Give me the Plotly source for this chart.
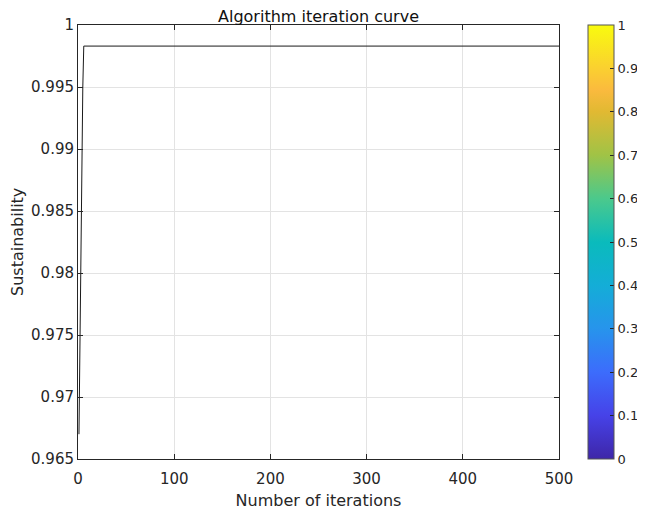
import plotly.graph_objects as go

# ---- data ----
early_values = [0.9670, 0.9745, 0.9820, 0.9895, 0.9950, 0.9983]
plateau_value = 0.9983
n_iter = 500
iterations = list(range(1, n_iter + 1))
sustainability = early_values + [plateau_value] * (n_iter - len(early_values))

x_ticks = [0, 100, 200, 300, 400, 500]
y_ticks = [0.965, 0.97, 0.975, 0.98, 0.985, 0.99, 0.995, 1.0]
y_ticklabels = ["0.965", "0.97", "0.975", "0.98", "0.985", "0.99", "0.995", "1"]
cb_ticks = [0, 0.1, 0.2, 0.3, 0.4, 0.5, 0.6, 0.7, 0.8, 0.9, 1.0]
cb_ticklabels = ["0", "0.1", "0.2", "0.3", "0.4", "0.5", "0.6", "0.7", "0.8", "0.9", "1"]

parula = [
    [0.00, "rgb(62,38,168)"],
    [0.10, "rgb(70,66,232)"],
    [0.20, "rgb(60,108,252)"],
    [0.30, "rgb(39,148,236)"],
    [0.40, "rgb(20,173,215)"],
    [0.50, "rgb(10,187,188)"],
    [0.60, "rgb(75,201,140)"],
    [0.70, "rgb(160,195,70)"],
    [0.80, "rgb(225,185,50)"],
    [0.85, "rgb(250,186,62)"],
    [0.90, "rgb(250,208,48)"],
    [1.00, "rgb(249,251,14)"],
]

TXT = "#262626"
FONT = "DejaVu Sans, Arial, sans-serif"
W, H = 637, 505
L, R, T, B = 70, 86, 17, 54
plot_w = W - L - R

fig = go.Figure()
fig.add_trace(go.Scatter(
    x=iterations, y=sustainability, mode="lines",
    line=dict(color="#1a1a1a", width=1), showlegend=False, hoverinfo="x+y",
))
# colorbar carrier
fig.add_trace(go.Scatter(
    x=[250], y=[0.99], mode="markers", showlegend=False, hoverinfo="skip",
    marker=dict(color=[0.5], cmin=0, cmax=1, colorscale=parula, opacity=0, size=1,
                showscale=True,
                colorbar=dict(
                    xref="container", x=580 / W, xanchor="left", xpad=0,
                    y=0.5, yanchor="middle", ypad=0,
                    len=1, lenmode="fraction", thickness=26, thicknessmode="pixels",
                    outlinecolor="#555555", outlinewidth=1,
                    tickvals=cb_ticks, ticktext=cb_ticklabels,
                    ticks="inside", ticklen=4, tickcolor=TXT,
                    tickfont=dict(family=FONT, size=13, color=TXT),
                )),
))

fig.update_layout(
    width=W, height=H,
    margin=dict(l=L, r=R, t=T, b=B, autoexpand=False),
    paper_bgcolor="white", plot_bgcolor="white",
    font=dict(family=FONT, color=TXT),
    title=dict(text="Algorithm iteration curve", x=(L + W - R) / 2 / W, xanchor="center",
               y=1 - 8 / H, yanchor="middle", font=dict(size=16, color="#111111")),
    annotations=[dict(
        text="Sustainability", textangle=-90, xref="paper", yref="paper",
        x=(9 - L) / plot_w, y=0.5, xanchor="center", yanchor="middle",
        showarrow=False, font=dict(size=16, color=TXT),
    )],
)
fig.update_xaxes(
    range=[0, 500], tickvals=x_ticks, showgrid=True, gridcolor="#e3e3e3", gridwidth=1,
    showline=True, linecolor=TXT, linewidth=1, mirror="ticks", ticks="inside", ticklen=5,
    tickcolor=TXT, zeroline=False, tickfont=dict(size=15, color=TXT), ticklabelstandoff=6,
    automargin=False,
    title=dict(text="Number of iterations", font=dict(size=16, color=TXT), standoff=7),
)
fig.update_yaxes(
    range=[0.965, 1.0], tickvals=y_ticks, ticktext=y_ticklabels, showgrid=True,
    gridcolor="#e3e3e3", gridwidth=1, automargin=False,
    showline=True, linecolor=TXT, linewidth=1, mirror="ticks", ticks="inside", ticklen=5,
    tickcolor=TXT, zeroline=False, tickfont=dict(size=15, color=TXT),
)

fig.write_html("out.html")
